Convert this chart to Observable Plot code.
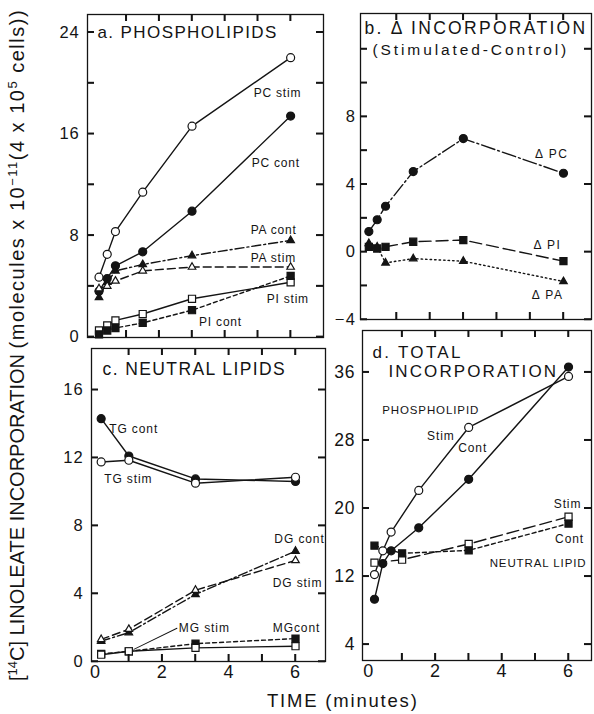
<!DOCTYPE html>
<html>
<head>
<meta charset="utf-8">
<script src="https://cdn.jsdelivr.net/npm/d3@7"></script>
<script src="https://cdn.jsdelivr.net/npm/@observablehq/plot@0.6"></script>
<style>
html, body { margin: 0; padding: 0; background: #fff; }
#fig { position: relative; width: 594px; height: 714px; overflow: hidden; background: #fff;
  font-family: "Liberation Sans", Arial, sans-serif; color: #141414; }
#fig svg { position: absolute; }
#ytitle { position: absolute; width: 700px; left: -333px; top: 333px; height: 24px; line-height: 24px;
  text-align: center; font-size: 20px; transform: rotate(-90deg); transform-origin: 50% 50%; white-space: nowrap; }
#ytitle sup { font-size: 13px; vertical-align: 7px; line-height: 0; }
#ytitle .lc { letter-spacing: 1.5px; }
#xtitle { position: absolute; left: 267px; top: 690px; font-size: 18.5px; letter-spacing: 1.8px; white-space: nowrap; }
</style>
</head>
<body>
<div id="fig">
  <div id="ytitle">[<sup>14</sup>C] LINOLEATE INCORPORATION <span class="lc">(molecules x 10<sup>−11</sup>(4 x 10<sup>5</sup> cells))</span></div>
  <div id="xtitle">TIME (minutes)</div>
</div>
<script>
// ---------- data (minutes, molecules x 10^-11 per 4x10^5 cells) ----------
// a. Phospholipids
const timesPL = [0.17, 0.42, 0.67, 1.5, 3, 6];
const pcStim = [4.7, 6.5, 8.3, 11.4, 16.6, 22.0];
const pcCont = [3.6, 4.6, 5.6, 6.7, 9.9, 17.4];
const paCont = [3.1, 4.3, 5.2, 5.7, 6.4, 7.6];
const paStim = [3.8, 4.0, 4.4, 5.2, 5.5, 5.5];
const piStim = [0.5, 0.9, 1.3, 1.8, 3.0, 4.3];
const piCont = [0.2, 0.5, 0.7, 1.1, 2.1, 4.8];
// b. Delta incorporation (stimulated - control)
const deltaPC = [1.2, 1.9, 2.7, 4.75, 6.7, 4.65];
const deltaPI = [0.3, 0.2, 0.3, 0.6, 0.7, -0.55];
const deltaPA = [0.5, 0.3, -0.65, -0.4, -0.55, -1.75];
// c. Neutral lipids
const timesNL = [0.17, 1, 3, 6];
const tgCont = [14.3, 12.1, 10.75, 10.6];
const tgStim = [11.75, 11.85, 10.5, 10.85];
const dgCont = [1.2, 1.7, 3.95, 6.5];
const dgStim = [1.3, 1.9, 4.2, 5.95];
const mgCont = [0.45, 0.6, 1.05, 1.35];
const mgStim = [0.4, 0.6, 0.8, 0.9];
// d. Total incorporation
const plCont = [9.3, 13.5, 15.0, 17.7, 23.4, 36.6];
const plStim = [12.2, 15.0, 17.2, 22.1, 29.5, 35.5];
const nlCont = [15.6, 14.7, 15.05, 18.2];
const nlStim = [13.6, 13.95, 15.8, 19.0];
// tick values
const minuteTicks = [1, 2, 3, 4, 5, 6];
const minuteLabels = [0, 2, 4, 6];
const yTicksA = [0, 4, 8, 12, 16, 20, 24];
const yLabelsA = [0, 8, 16, 24];
const yTicksB = [-4, -2, 0, 2, 4, 6, 8, 10, 12];
const yRightB = [-4, 0, 4, 8, 12];
const yLabelsB = [-4, 0, 4, 8];
const yTicksC = [0, 4, 8, 12, 16];
const yTicksD = [4, 12, 20, 28, 36];
// titles
const titleA = ["a. PHOSPHOLIPIDS"];
const titleB = ["b. Δ INCORPORATION", "(Stimulated-Control)"];
const titleC = ["c. NEUTRAL LIPIDS"];
const titleD = ["d. TOTAL", "INCORPORATION"];

// ---------- helpers ----------
const ink = "#141414";
const fig = document.getElementById("fig");
const pts = (times, vals) => times.map((t, i) => ({t, v: vals[i]}));
const DASH = {solid: undefined, dashdot: "9,3,2,3", dashed: "8,4", short: "4,3", dotted: "1.5,3", long: "12,5", ddlong: "14,3,2,3"};
const SYM = {
  oc: {symbol: "circle", filled: false, r: 4}, fc: {symbol: "circle", filled: true, r: 4},
  ot: {symbol: "triangle", filled: false, r: 2.8}, ft: {symbol: "triangle", filled: true, r: 2.8},
  os: {symbol: "square", filled: false, r: 4}, fs: {symbol: "square", filled: true, r: 4}
};
const TICK = 7;

function panel(cfg) {
  const [L, T, R, B] = cfg.frame;
  const [mT, mR, mB, mL] = cfg.margins;
  const W = R - L, H = B - T;
  const lines = [], dots = [], texts = [];
  for (const s of cfg.series) {
    const data = pts(s.times, s.values);
    const sym = SYM[s.mark];
    lines.push(Plot.line(data, {x: "t", y: "v", stroke: ink, strokeWidth: 1.4, strokeDasharray: DASH[s.dash]}));
    dots.push(Plot.dot(data, {x: "t", y: "v", symbol: sym.symbol, r: sym.r, fill: sym.filled ? ink : "white", stroke: ink, strokeWidth: 1.2}));
  }
  for (const lb of cfg.labels) {
    const d = pts(lb.s.times, lb.s.values)[lb.i];
    texts.push(Plot.text([d], {x: "t", y: "v", text: () => lb.text, dx: lb.dx, dy: lb.dy,
      textAnchor: lb.anchor || "start", fontSize: lb.size || 12, fill: ink}));
  }
  for (const tt of cfg.titles) {
    texts.push(Plot.text([tt.text], {frameAnchor: "top-left", text: d => d, dx: tt.dx, dy: tt.dy,
      lineAnchor: "middle", textAnchor: "start", fontSize: tt.size, fill: ink}));
  }
  const marks = [
    ...lines, ...(cfg.extra || []), ...dots,
    // inward ticks on all four sides
    Plot.tickY(cfg.yTicks, {y: d => d, stroke: ink, strokeWidth: 1.5, insetRight: W - TICK}),
    Plot.tickY(cfg.yRight || cfg.yTicks, {y: d => d, stroke: ink, strokeWidth: 1.5, insetLeft: W - TICK}),
    Plot.tickX(minuteTicks, {x: d => d, stroke: ink, strokeWidth: 1.5, insetTop: H - TICK}),
    Plot.tickX(minuteTicks, {x: d => d, stroke: ink, strokeWidth: 1.5, insetBottom: H - TICK}),
    // tick labels
    Plot.axisY(cfg.yLabels, {anchor: "left", tickSize: 0, tickPadding: cfg.yPad, fontSize: cfg.yFont || 16.5, label: null}),
    cfg.xLabels ? Plot.axisX(cfg.xLabels, {anchor: "bottom", tickSize: 0, tickPadding: 4, fontSize: 18, label: null})
                : Plot.axisX([], {anchor: "bottom", tickSize: 0, label: null}),
    ...texts,
    Plot.frame({stroke: ink, strokeWidth: 1.3})
  ];
  const svg = Plot.plot({
    width: W + mL + mR, height: H + mT + mB,
    marginTop: mT, marginRight: mR, marginBottom: mB, marginLeft: mL,
    x: {domain: cfg.xDomain}, y: {domain: cfg.yDomain},
    style: {background: "transparent", overflow: "visible", color: ink,
      fontFamily: '"Liberation Sans", Arial, sans-serif', letterSpacing: cfg.ls},
    marks
  });
  svg.style.left = (L - mL) + "px";
  svg.style.top = (T - mT) + "px";
  for (const tt of cfg.titles) {
    if (!tt.ls) continue;
    d3.select(svg).selectAll("text").filter(function() { return this.textContent === tt.text; })
      .style("letter-spacing", tt.ls);
  }
  // reinforce the inward frame ticks, positioned through the plot's own scales
  try {
    const xs = svg.scale("x"), ys = svg.scale("y");
    const g = d3.select(svg).append("g").attr("stroke", ink).attr("stroke-width", 1.5);
    const x0 = mL, x1 = mL + W, y0 = mT, y1 = mT + H;
    for (const v of cfg.yTicks) { const y = ys.apply(v); g.append("line").attr("x1", x0).attr("x2", x0 + TICK).attr("y1", y).attr("y2", y); }
    for (const v of (cfg.yRight || cfg.yTicks)) { const y = ys.apply(v); g.append("line").attr("x1", x1 - TICK).attr("x2", x1).attr("y1", y).attr("y2", y); }
    for (const v of minuteTicks) {
      const x = xs.apply(v);
      g.append("line").attr("x1", x).attr("x2", x).attr("y1", y1 - TICK).attr("y2", y1);
      g.append("line").attr("x1", x).attr("x2", x).attr("y1", y0).attr("y2", y0 + TICK);
    }
  } catch (e) { /* keep the Plot tick marks */ }
  fig.appendChild(svg);
}

// ---------- panel a ----------
const sPCs = {times: timesPL, values: pcStim, mark: "oc", dash: "solid"};
const sPCc = {times: timesPL, values: pcCont, mark: "fc", dash: "solid"};
const sPAc = {times: timesPL, values: paCont, mark: "ft", dash: "dashdot"};
const sPAs = {times: timesPL, values: paStim, mark: "ot", dash: "dashed"};
const sPIs = {times: timesPL, values: piStim, mark: "os", dash: "solid"};
const sPIc = {times: timesPL, values: piCont, mark: "fs", dash: "short"};
panel({
  frame: [87, 14, 323, 337], margins: [8, 8, 8, 45],
  xDomain: [-0.18, 7.0], yDomain: [-0.05, 25.4],
  yTicks: yTicksA, yLabels: yLabelsA, yPad: 8, ls: "0.8px",
  series: [sPCs, sPCc, sPAc, sPAs, sPIs, sPIc],
  labels: [
    {s: sPCs, i: 5, text: "PC stim", dx: -37, dy: 36},
    {s: sPCc, i: 5, text: "PC cont", dx: -39, dy: 47},
    {s: sPAc, i: 5, text: "PA cont", dx: -40, dy: -10},
    {s: sPAs, i: 5, text: "PA stim", dx: -40, dy: -9},
    {s: sPIs, i: 5, text: "PI stim", dx: -24, dy: 17},
    {s: sPIc, i: 4, text: "PI cont", dx: 7, dy: 12}
  ],
  titles: [{text: titleA[0], dx: 10, dy: 18, size: 17, ls: "1.4px"}]
});

// ---------- panel b ----------
const sDPC = {times: timesPL, values: deltaPC, mark: "fc", dash: "ddlong"};
const sDPI = {times: timesPL, values: deltaPI, mark: "fs", dash: "long"};
const sDPA = {times: timesPL, values: deltaPA, mark: "ft", dash: "dotted"};
panel({
  frame: [360, 13, 591, 319], margins: [8, 3, 8, 45],
  xDomain: [-0.08, 6.84], yDomain: [-4, 14.1],
  yTicks: yTicksB, yRight: yRightB, yLabels: yLabelsB, yPad: 4, ls: "1.5px",
  series: [sDPC, sDPI, sDPA],
  labels: [
    {s: sDPC, i: 5, text: "Δ PC", dx: 5, dy: -19, anchor: "end"},
    {s: sDPI, i: 5, text: "Δ PI", dx: -2, dy: -16, anchor: "end"},
    {s: sDPA, i: 5, text: "Δ PA", dx: 0, dy: 14, anchor: "end"}
  ],
  titles: [
    {text: titleB[0], dx: 4, dy: 15, size: 17.5, ls: "2.3px"},
    {text: titleB[1], dx: 12, dy: 37, size: 15.5, ls: "2.9px"}
  ]
});

// ---------- panel c ----------
const sTGc = {times: timesNL, values: tgCont, mark: "fc", dash: "solid"};
const sTGs = {times: timesNL, values: tgStim, mark: "oc", dash: "solid"};
const sDGc = {times: timesNL, values: dgCont, mark: "ft", dash: "dashdot"};
const sDGs = {times: timesNL, values: dgStim, mark: "ot", dash: "dashed"};
const sMGc = {times: timesNL, values: mgCont, mark: "fs", dash: "short"};
const sMGs = {times: timesNL, values: mgStim, mark: "os", dash: "solid"};
panel({
  frame: [91, 348, 325, 661], margins: [8, 8, 25, 45],
  xDomain: [-0.12, 6.9], yDomain: [0, 18.43],
  yTicks: yTicksC, yLabels: yTicksC, yPad: 8, xLabels: minuteLabels, ls: "0.9px",
  series: [sTGc, sTGs, sDGc, sDGs, sMGc, sMGs],
  extra: [
    Plot.vector([pts(timesNL, mgStim)[1]], {x: "t", y: "v", length: 48, rotate: 64, anchor: "start",
      shape: "spike", r: 0, stroke: ink, fill: "none", strokeWidth: 0.9, dx: 5, dy: -2})
  ],
  labels: [
    {s: sTGc, i: 0, text: "TG cont", dx: 8, dy: 11},
    {s: sTGs, i: 0, text: "TG stim", dx: 3, dy: 17},
    {s: sDGc, i: 3, text: "DG cont", dx: 4, dy: -12, anchor: "middle"},
    {s: sDGs, i: 3, text: "DG stim", dx: 2, dy: 23, anchor: "middle"},
    {s: sMGs, i: 1, text: "MG stim", dx: 50, dy: -23},
    {s: sMGc, i: 3, text: "MGcont", dx: 1, dy: -10, anchor: "middle"}
  ],
  titles: [{text: titleC[0], dx: 11, dy: 21, size: 17.5, ls: "1.4px"}]
});

// ---------- panel d ----------
const sPLc = {times: timesPL, values: plCont, mark: "fc", dash: "solid"};
const sPLs = {times: timesPL, values: plStim, mark: "oc", dash: "solid"};
const sNLs = {times: timesNL, values: nlStim, mark: "os", dash: "long"};
const sNLc = {times: timesNL, values: nlCont, mark: "fs", dash: "short"};
panel({
  frame: [362, 330, 591, 660], margins: [8, 3, 25, 45],
  xDomain: [-0.19, 6.69], yDomain: [2.1, 40.9],
  yTicks: yTicksD, yLabels: yTicksD, yPad: 7, yFont: 17.5, xLabels: minuteLabels, ls: "0.9px",
  series: [sNLs, sNLc, sPLc, sPLs],
  labels: [
    {s: sPLs, i: 4, text: "PHOSPHOLIPID", dx: -38, dy: -17, anchor: "middle", size: 11.5},
    {s: sPLs, i: 4, text: "Stim", dx: -14, dy: 9, anchor: "end"},
    {s: sPLc, i: 4, text: "Cont", dx: 4, dy: -31, anchor: "middle"},
    {s: sNLs, i: 3, text: "Stim", dx: -1, dy: -13, anchor: "middle"},
    {s: sNLc, i: 3, text: "Cont", dx: 1, dy: 16, anchor: "middle"},
    {s: sNLc, i: 3, text: "NEUTRAL LIPID", dx: 18, dy: 40, anchor: "end", size: 11.5}
  ],
  titles: [
    {text: titleD[0], dx: 10, dy: 22, size: 17, ls: "2.3px"},
    {text: titleD[1], dx: 26, dy: 41, size: 17, ls: "2.1px"}
  ]
});
</script>
</body>
</html>
